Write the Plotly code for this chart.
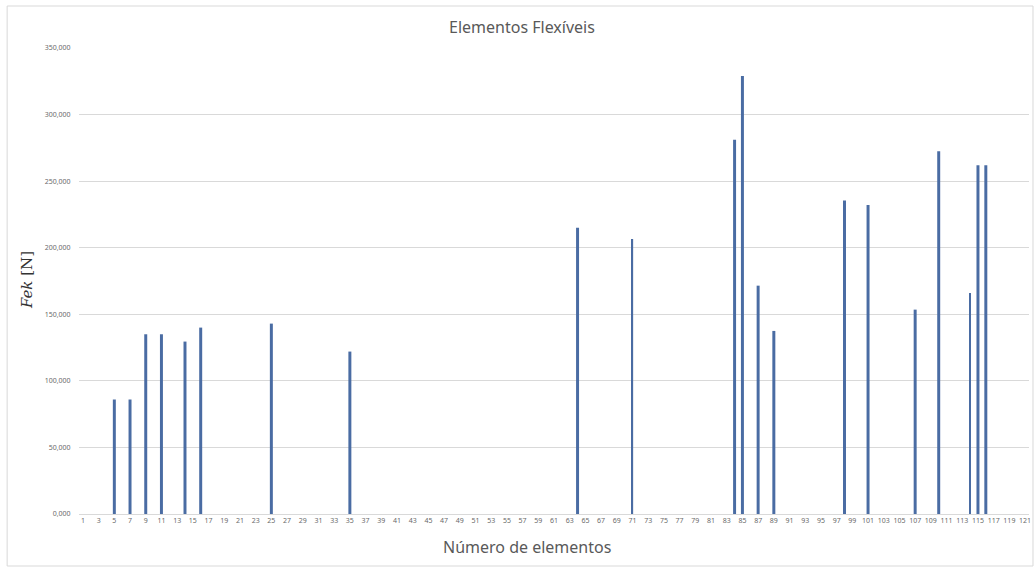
import plotly.graph_objects as go

# Data
elementos = [5, 7, 9, 11, 14, 16, 25, 35, 64, 71, 84, 85, 87, 89, 98, 101, 107, 110, 114, 115, 116]
fek = [86, 86, 135, 135, 129.5, 140, 143, 122, 215, 206.5, 281, 329, 171.5, 137.5, 235.5, 232, 153.5, 272.5, 166, 262, 262]
categorias = list(range(1, 122))
tick_cats = categorias[::2]
y_ticks = [0, 50, 100, 150, 200, 250, 300, 350]

W, H = 1036, 568
L, R, T, B = 79, 1031, 48, 514

thin = {71, 114}
widths = [0.16 if e in thin else 0.38 for e in elementos]

fig = go.Figure()
fig.add_trace(go.Bar(
    x=elementos, y=fek, width=widths,
    marker=dict(color="#4a6ca3", line=dict(width=0)),
    showlegend=False,
))

def px_x(p):
    return (p - L) / (R - L)

def px_y(p):
    return (B - p) / (B - T)

fig.update_layout(
    width=W, height=H,
    margin=dict(l=L, r=W - R, t=T, b=H - B, pad=0),
    paper_bgcolor="white", plot_bgcolor="white",
    separators=",.",
    font=dict(family="Noto Sans", color="#595959"),
    xaxis=dict(
        range=[categorias[0] - 0.5, categorias[-1] + 0.5],
        tickmode="array", tickvals=tick_cats, ticktext=[str(c) for c in tick_cats],
        tickangle=0, tickfont=dict(size=7, color="#6a6a6a"),
        showgrid=False, zeroline=False, showline=True, linecolor="#d9d9d9", linewidth=1,
        ticks="", ticklen=0,
    ),
    yaxis=dict(
        range=[0, 350], tickmode="array", tickvals=y_ticks, tickformat=".3f",
        tickfont=dict(size=7, color="#6a6a6a"),
        showgrid=True, gridcolor="#d9d9d9", gridwidth=1, zeroline=False,
        showline=False, ticks="outside", ticklen=6, tickcolor="white",
    ),
    shapes=[dict(type="rect", xref="paper", yref="paper",
                 x0=px_x(7), x1=px_x(1035), y0=px_y(566), y1=px_y(6),
                 line=dict(color="#d9d9d9", width=1), fillcolor="rgba(0,0,0,0)", layer="below")],
    annotations=[
        dict(text="Elementos Flexíveis", xref="paper", yref="paper",
             x=px_x(523), y=px_y(27), xanchor="center", yanchor="middle", showarrow=False,
             font=dict(size=16, color="#595959")),
        dict(text="Número de elementos", xref="paper", yref="paper",
             x=px_x(528), y=px_y(547), xanchor="center", yanchor="middle", showarrow=False,
             font=dict(size=16, color="#595959")),
        dict(text="<i>Fek</i> [N]", xref="paper", yref="paper", textangle=-90,
             x=px_x(27), y=px_y(280), xanchor="center", yanchor="middle", showarrow=False,
             font=dict(family="DejaVu Serif", size=15, color="#333333")),
    ],
)

fig.write_html("out.html", config={"displayModeBar": False},
               post_script="document.body.style.margin='0';document.body.style.overflow='hidden';")
